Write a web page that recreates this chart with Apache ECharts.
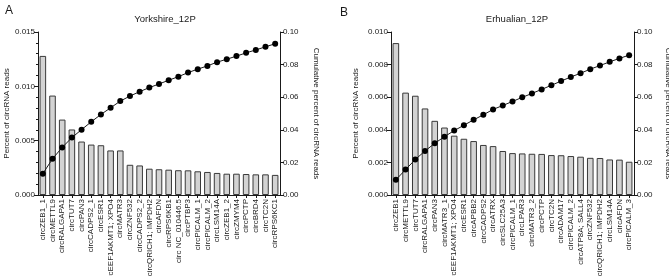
<!DOCTYPE html>
<html>
<head>
<meta charset="utf-8">
<script src="https://cdn.jsdelivr.net/npm/echarts@6/dist/echarts.min.js"></script>
<style>
  html, body { margin: 0; padding: 0; background: #fff; }
  #chart { width: 669px; height: 276px; }
</style>
</head>
<body>
<div id="chart"></div>
<script>
// panel A - Yorkshire_12P
const catsA = ['circZEB1_1', 'circMETTL9', 'circRALGAPA1', 'circTUT7', 'circPAN3', 'circCADPS2_1', 'circESR1',
  'circEEF1AKMT1; XPO4', 'circMATR3', 'circZNF532', 'circCADPS2_2', 'circQRICH1; IMPDH2', 'circAFDN',
  'circRPS6KB1', 'circ NC_010446.5', 'circPTBP3', 'circPICALM_1', 'circPICALM_2', 'circLSM14A', 'circZEB1_2',
  'circZMYM4', 'circPCTP', 'circBRD4', 'circTC2N', 'circRPS6KC1']
const pctA = [0.0128, 0.00915, 0.00694, 0.00603, 0.00492, 0.00464, 0.00458, 0.0041, 0.0041, 0.00278, 0.00272,
  0.00242, 0.00237, 0.00233, 0.00228, 0.00227, 0.00218, 0.00212, 0.00203, 0.00196, 0.00196, 0.00193, 0.0019,
  0.0019, 0.00185]
const cumA = [0.0131, 0.0222, 0.0292, 0.0352, 0.0401, 0.0449, 0.0494, 0.0535, 0.0576, 0.0607, 0.0634, 0.0659,
  0.0681, 0.0704, 0.0726, 0.0751, 0.0772, 0.0792, 0.0815, 0.0833, 0.0852, 0.0872, 0.089, 0.0909, 0.0928]

// panel B - Erhualian_12P
const catsB = ['circZEB1', 'circMETTL9', 'circTUT7', 'circRALGAPA1', 'circPAN3', 'circMATR3_1',
  'circEEF1AKMT1; XPO4', 'circESR1', 'circAPBB2', 'circCADPS2', 'circATRX', 'circSLC25A3', 'circPICALM_1',
  'circLPAR3', 'circMATR3_2', 'circPCTP', 'circTC2N', 'circADAM17', 'circPICALM_2', 'circATP8A; SALL4',
  'circZNF532', 'circQRICH1; IMPDH2', 'circLSM14A', 'circAFDN', 'circPICALM_3']
const pctB = [0.00932, 0.00628, 0.00609, 0.00531, 0.00455, 0.00414, 0.00364, 0.00345, 0.00331, 0.00307, 0.003,
  0.0027, 0.00257, 0.00255, 0.00253, 0.00252, 0.00245, 0.00244, 0.00239, 0.00235, 0.00228, 0.00227, 0.00218,
  0.00217, 0.00204]
const cumB = [0.0093, 0.0156, 0.0218, 0.027, 0.0317, 0.0358, 0.0395, 0.0428, 0.0461, 0.0492, 0.0525, 0.0549,
  0.0574, 0.0599, 0.0623, 0.0648, 0.0673, 0.0699, 0.0724, 0.0747, 0.0772, 0.0794, 0.0817, 0.0838, 0.0858]

const titles = ['Yorkshire_12P', 'Erhualian_12P']
const panelTags = ['A', 'B']

const FONT = 'Liberation Sans, Arial, sans-serif'
const INK = '#1a1a1a'

const axisLine = { show: true, lineStyle: { color: INK, width: 1 } }
const tickLabel = { color: INK, fontSize: 8, fontFamily: FONT }

const xAxisFor = (cats, gridIndex) => ({
  type: 'category',
  gridIndex,
  data: cats,
  axisLine,
  axisTick: { show: true, alignWithLabel: true, length: 3, lineStyle: { color: INK } },
  axisLabel: { ...tickLabel, rotate: 90, interval: 0, margin: 4 }
})

const leftAxis = (gridIndex, max, interval, digits, nameGap, minor) => ({
  type: 'value',
  gridIndex,
  min: 0,
  max,
  interval,
  position: 'left',
  name: 'Percent of circRNA reads',
  nameLocation: 'middle',
  nameGap,
  nameRotate: 90,
  nameTextStyle: { color: INK, fontSize: 8, fontFamily: FONT },
  axisLine,
  axisTick: { show: true, length: 4, lineStyle: { color: INK } },
  minorTick: { show: minor, splitNumber: 5, length: 2, lineStyle: { color: INK } },
  splitLine: { show: false },
  axisLabel: { ...tickLabel, margin: 3, formatter: v => v.toFixed(digits) }
})

const rightAxis = (gridIndex, nameGap) => ({
  type: 'value',
  gridIndex,
  min: 0,
  max: 0.1,
  interval: 0.02,
  position: 'right',
  name: 'Cumulative percent of circRNA reads',
  nameLocation: 'middle',
  nameGap,
  nameRotate: -90,
  nameTextStyle: { color: INK, fontSize: 8, fontFamily: FONT },
  axisLine,
  axisTick: { show: true, length: 4, lineStyle: { color: INK } },
  splitLine: { show: false },
  axisLabel: { ...tickLabel, margin: 3, formatter: v => v.toFixed(2) }
})

const barSeries = (data, xi, yi) => ({
  type: 'bar',
  xAxisIndex: xi,
  yAxisIndex: yi,
  data,
  barCategoryGap: '32%',
  itemStyle: { color: '#d3d3d3', borderColor: '#3a3a3a', borderWidth: 1 },
  silent: true
})

const lineSeries = (data, xi, yi) => ({
  type: 'line',
  xAxisIndex: xi,
  yAxisIndex: yi,
  data,
  symbol: 'circle',
  symbolSize: 6,
  lineStyle: { color: INK, width: 1 },
  itemStyle: { color: '#000' },
  silent: true,
  z: 5
})

const chart = echarts.init(document.getElementById('chart'))

chart.setOption({
  animation: false,
  textStyle: { fontFamily: FONT },
  title: [
    { text: titles[0], left: 160, top: 9, textAlign: 'center',
      textStyle: { fontSize: 9.5, fontWeight: 'normal', color: INK, fontFamily: FONT } },
    { text: titles[1], left: 512, top: 9, textAlign: 'center',
      textStyle: { fontSize: 9.5, fontWeight: 'normal', color: INK, fontFamily: FONT } },
    { text: panelTags[0], left: 0, top: 0,
      textStyle: { fontSize: 12, fontWeight: 'normal', color: INK, fontFamily: FONT } },
    { text: panelTags[1], left: 335, top: 2,
      textStyle: { fontSize: 12, fontWeight: 'normal', color: INK, fontFamily: FONT } }
  ],
  grid: [
    { left: 38, right: 389, top: 32, bottom: 81, outerBoundsMode: 'none', containLabel: false },
    { left: 391, right: 35, top: 32, bottom: 81, outerBoundsMode: 'none', containLabel: false }
  ],
  xAxis: [xAxisFor(catsA, 0), xAxisFor(catsB, 1)],
  yAxis: [
    leftAxis(0, 0.015, 0.005, 3, 26, true),
    rightAxis(0, 32),
    leftAxis(1, 0.01, 0.002, 3, 31, false),
    rightAxis(1, 30)
  ],
  series: [
    barSeries(pctA, 0, 0),
    lineSeries(cumA, 0, 1),
    barSeries(pctB, 1, 2),
    lineSeries(cumB, 1, 3)
  ]
})

window.addEventListener('resize', () => chart.resize())
</script>
</body>
</html>
